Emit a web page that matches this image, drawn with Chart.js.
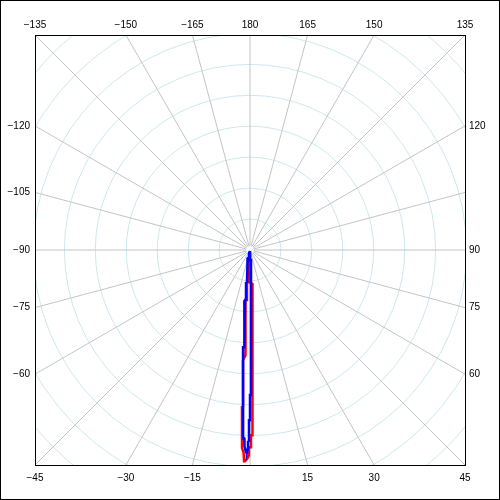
<!DOCTYPE html>
<html>
<head>
<meta charset="utf-8">
<script src="https://cdn.jsdelivr.net/npm/chart.js@4/dist/chart.umd.min.js"></script>
<style>
html,body{margin:0;padding:0;background:#fff;}
canvas{display:block;}
</style>
</head>
<body>
<canvas id="c" width="500" height="500"></canvas>
<script>
// Polar data: angle in degrees (0 = down, positive = right), radius in ring units (ring every 10)
const blueAngles = [0, -18.4, -7.1, -14.0, -8.7, -13.0, -5.4, -7.1, -4.6, -5.7, -4.2, -5.0, -3.5, -4.1, -2.1, -1.8, -1.75, -1.46, -1.13, -0.85, -0.58, -0.60, -0.30, -0.34, 0, 0, 0.40, 5.7, 0, 0];
const blueRadii  = [0.3, 1.0, 2.6, 2.7, 4.3, 4.3, 10.4, 10.4, 16.2, 16.3, 22.1, 22.1, 31.5, 31.5, 60.9, 60.9, 63.5, 63.5, 65.4, 65.4, 64.1, 62.1, 62.1, 55.0, 55.0, 46.9, 46.9, 3.25, 1.6, 0.3];
const redAngles  = [0, 0, -2.2, -0.9, 4.2, 0.77, 0.31, 0.29, -0.29, -0.28, -0.82, -1.36, -1.64, -1.84, -2.31, -2.92, -2.55, -3.64, -2.45, -5.14, -4.0, -4.9, -5.7, -7.1, 0];
const redRadii   = [0.6, 3.9, 4.2, 10.4, 11.0, 59.9, 59.9, 63.8, 63.8, 66.3, 67.6, 68.3, 67.7, 65.4, 64.1, 50.9, 50.9, 35.7, 34.0, 16.2, 16.2, 11.4, 6.5, 2.6, 0.6];
const ringRadii  = [10, 20, 30, 40, 50, 60, 70, 80, 90];
const spokeAngles = [-165, -150, -135, -120, -105, -90, -75, -60, -45, -30, -15, 0, 15, 30, 45, 60, 75, 90, 105, 120, 135, 150, 165, 180];
const labelAngles = [-165, -150, -135, -120, -105, -90, -75, -60, -45, -30, -15, 15, 30, 45, 60, 75, 90, 120, 135, 150, 165, 180];
const labelTexts  = ['−165', '−150', '−135', '−120', '−105', '−90', '−75', '−60', '−45', '−30', '−15', '15', '30', '45', '60', '75', '90', '120', '135', '150', '165', '180'];

const RMAX = 69.5;
const rad = d => d * Math.PI / 180;
function toXY(angles, radii) {
  return angles.map((a, i) => ({ x: radii[i] * Math.sin(rad(a)), y: -radii[i] * Math.cos(rad(a)) }));
}

const polarGrid = {
  id: 'polarGrid',
  beforeDatasetsDraw(chart) {
    const { ctx, chartArea: ca, scales: { x, y } } = chart;
    const cx = x.getPixelForValue(0), cy = y.getPixelForValue(0);
    const pxPerUnit = (x.getPixelForValue(10) - cx) / 10;
    ctx.save();
    ctx.beginPath();
    ctx.rect(ca.left, ca.top, ca.right - ca.left, ca.bottom - ca.top);
    ctx.clip();
    ctx.lineWidth = 1;
    ctx.strokeStyle = 'rgb(204,232,238)';
    ringRadii.forEach(r => {
      ctx.beginPath();
      ctx.arc(cx, cy, r * pxPerUnit, 0, Math.PI * 2);
      ctx.stroke();
    });
    ctx.strokeStyle = 'rgb(196,196,196)';
    spokeAngles.forEach(a => {
      const s = Math.sin(rad(a)), c = Math.cos(rad(a));
      const t = RMAX / Math.max(Math.abs(s), Math.abs(c));
      const r0 = 1.3;
      ctx.beginPath();
      ctx.moveTo(x.getPixelForValue(r0 * s), y.getPixelForValue(-r0 * c));
      ctx.lineTo(x.getPixelForValue(t * s), y.getPixelForValue(-t * c));
      ctx.stroke();
    });
    ctx.restore();
  },
  afterDraw(chart) {
    const { ctx, chartArea: ca, scales: { x, y } } = chart;
    ctx.save();
    ctx.strokeStyle = '#000';
    ctx.lineWidth = 1;
    ctx.strokeRect(Math.round(ca.left) + 0.5, Math.round(ca.top) + 0.5, Math.round(ca.right - ca.left), Math.round(ca.bottom - ca.top));
    ctx.strokeRect(0.5, 0.5, chart.width - 1, chart.height - 1);
    ctx.fillStyle = '#000';
    ctx.font = '10px "Liberation Sans", Arial, sans-serif';
    labelAngles.forEach((a, i) => {
      const s = Math.sin(rad(a)), c = Math.cos(rad(a));
      const t = RMAX / Math.max(Math.abs(s), Math.abs(c));
      const px = x.getPixelForValue(t * s), py = y.getPixelForValue(-t * c);
      const txt = labelTexts[i];
      if (Math.abs(c) >= Math.abs(s) - 1e-9) {
        ctx.textAlign = 'center';
        ctx.textBaseline = 'middle';
        if (c < 0) ctx.fillText(txt, px, ca.top - 10);
        else ctx.fillText(txt, px, ca.bottom + 13);
      } else {
        ctx.textBaseline = 'middle';
        if (s < 0) { ctx.textAlign = 'right'; ctx.fillText(txt, ca.left - 5, py); }
        else { ctx.textAlign = 'left'; ctx.fillText(txt, ca.right + 4, py); }
      }
    });
    ctx.restore();
  }
};

new Chart(document.getElementById('c'), {
  type: 'scatter',
  data: {
    datasets: [
      { label: 'blue', data: toXY(blueAngles, blueRadii), showLine: true, borderColor: '#0000ff', backgroundColor: '#0000ff', borderWidth: 2.5, pointRadius: 0, tension: 0, fill: false },
      { label: 'red', data: toXY(redAngles, redRadii), showLine: true, borderColor: '#ff0000', backgroundColor: '#ff0000', borderWidth: 2.5, pointRadius: 0, tension: 0, fill: false }
    ]
  },
  options: {
    responsive: false,
    animation: false,
    devicePixelRatio: 1,
    layout: { padding: { left: 35, right: 35, top: 35, bottom: 35 } },
    plugins: { legend: { display: false }, tooltip: { enabled: false } },
    scales: {
      x: { type: 'linear', min: -RMAX, max: RMAX, display: false },
      y: { type: 'linear', min: -RMAX, max: RMAX, display: false }
    }
  },
  plugins: [polarGrid]
});
</script>
</body>
</html>
